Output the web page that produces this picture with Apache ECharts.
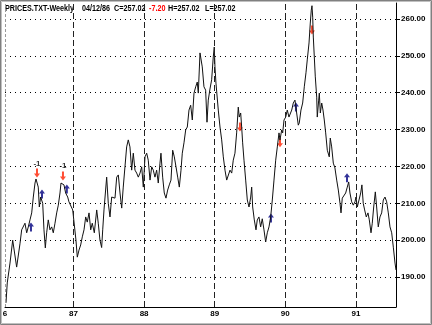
<!DOCTYPE html>
<html>
<head>
<meta charset="utf-8">
<script src="https://cdn.jsdelivr.net/npm/echarts@6/dist/echarts.min.js"></script>
<style>
  html, body { margin: 0; padding: 0; background: #fff; }
  #chart { width: 432px; height: 325px; }
</style>
</head>
<body>
<div id="chart"></div>
<script>
// weekly closes, dates as decimal years (86.0 = start of 1986)
const dates = [
  86.044, 86.062, 86.101, 86.139, 86.195, 86.242, 86.266, 86.313, 86.337, 86.360,
  86.384, 86.408, 86.431, 86.455, 86.469, 86.501, 86.516, 86.535, 86.564, 86.582,
  86.601, 86.620, 86.643, 86.667, 86.691, 86.714, 86.738, 86.762, 86.785, 86.809,
  86.823, 86.841, 86.865, 86.889, 86.918, 86.936, 86.960, 86.989, 87.007, 87.035,
  87.054, 87.078, 87.102, 87.125, 87.149, 87.173, 87.195, 87.220, 87.244, 87.266,
  87.295, 87.329, 87.351, 87.375, 87.399, 87.414, 87.432, 87.470, 87.493, 87.517,
  87.541, 87.564, 87.588, 87.612, 87.635, 87.659, 87.683, 87.705, 87.729, 87.753,
  87.776, 87.800, 87.824, 87.847, 87.871, 87.895, 87.918, 87.942, 87.966, 87.989,
  88.013, 88.037, 88.059, 88.084, 88.108, 88.130, 88.154, 88.178, 88.201, 88.225,
  88.239, 88.263, 88.286, 88.310, 88.334, 88.357, 88.381, 88.405, 88.428, 88.452,
  88.476, 88.499, 88.523, 88.541, 88.565, 88.589, 88.612, 88.636, 88.660, 88.683,
  88.707, 88.731, 88.753, 88.768, 88.792, 88.806, 88.824, 88.848, 88.872, 88.891,
  88.909, 88.933, 88.957, 88.980, 88.994, 89.004, 89.018, 89.051, 89.075, 89.099,
  89.122, 89.146, 89.170, 89.193, 89.217, 89.241, 89.263, 89.287, 89.311, 89.334,
  89.348, 89.368, 89.382, 89.396, 89.415, 89.439, 89.462, 89.486, 89.510, 89.524,
  89.538, 89.561, 89.585, 89.603, 89.627, 89.651, 89.674, 89.698, 89.722, 89.745,
  89.769, 89.793, 89.816, 89.840, 89.864, 89.887, 89.911, 89.925, 89.949, 89.963,
  89.982, 90.006, 90.028, 90.052, 90.091, 90.113, 90.137, 90.161, 90.184, 90.198,
  90.222, 90.246, 90.269, 90.293, 90.311, 90.336, 90.354, 90.368, 90.378, 90.388,
  90.397, 90.411, 90.425, 90.445, 90.453, 90.473, 90.482, 90.496, 90.516, 90.534,
  90.552, 90.572, 90.595, 90.623, 90.637, 90.657, 90.680, 90.703, 90.728, 90.751,
  90.775, 90.789, 90.807, 90.831, 90.855, 90.878, 90.898, 90.916, 90.940, 90.963,
  90.987, 91.001, 91.020, 91.044, 91.068, 91.085, 91.104, 91.124, 91.147, 91.171,
  91.190, 91.214, 91.232, 91.252, 91.275, 91.294, 91.317, 91.341, 91.365, 91.388,
  91.412, 91.436, 91.459, 91.483, 91.507, 91.530, 91.554, 91.568
];
const closes = [
  183, 188.4, 193.8, 200, 192.7, 199, 202.8, 204.6, 202, 203.6,
  205.5, 207.4, 211.7, 215.5, 216.6, 214.4, 209, 211.7, 210, 202.8,
  197.9, 202, 205.5, 202.8, 203.6, 202, 204.6, 207.4, 209.5, 212.8,
  215.5, 215.8, 215, 212.8, 211.7, 210.4, 210, 208.2, 208.7, 200,
  195.4, 197.3, 198.7, 200.9, 202.8, 206.3, 204.9, 207.4, 202.8, 204.6,
  202, 208.2, 204.6, 200, 198, 202.8, 208.2, 217.1, 210, 206.3,
  211.7, 212.2, 211.4, 217.1, 217.7, 212.8, 208.7, 214.4, 219.9, 225.3,
  227.2, 225.3, 219, 223.6, 219, 218.2, 217.1, 218.2, 219.9, 214.4,
  222.6, 223.6, 221.7, 216.3, 219.9, 219, 217.1, 219, 215.5, 220.9,
  223.6, 217.1, 212.8, 211.4, 213.6, 215, 216.3, 224.4, 222.6, 219.9,
  217.1, 214.4, 219, 223.6, 226.4, 229.9, 230.7, 235.3, 236.6, 232.6,
  239.9, 241.6, 242.9, 239.9, 250.8, 251.3, 247, 241.6, 240.7, 232,
  238, 241, 243.5, 249.7, 252.4, 247, 242.6, 235.3, 230.7, 227.2,
  222.6, 219, 216.3, 215.8, 219, 218.2, 221.7, 223.6, 229.1, 236.1,
  233.4, 234.5, 230.7, 226.4, 221.7, 216.3, 210.9, 209, 211.7, 214.4,
  209, 205.5, 202.8, 205.5, 206.3, 203.6, 205.8, 202.8, 199.5, 202,
  203.6, 206.3, 210.9, 216.3, 221.7, 225.3, 229.1, 227.2, 229.9, 229.1,
  232.6, 233.4, 235.3, 233.4, 235.3, 237.2, 238, 234.5, 231.2, 231.8,
  235.3, 237.2, 241.6, 245.4, 248.9, 253.5, 258.9, 262.4, 263.6, 260.5,
  255.1, 249.7, 244.3, 238.8, 233.4, 238, 239.9, 234.5, 237.2, 235.3,
  232.6, 229.1, 224.4, 222.6, 227.7, 225.3, 220.9, 219.6, 216.3, 213.6,
  210, 207.4, 211.4, 211.7, 212.8, 214.4, 215.8, 212.8, 210.4, 209.5,
  210.4, 211.7, 209, 210.9, 212.8, 215, 210, 208.2, 206.3, 207.4,
  205.5, 202, 204.6, 209, 213.1, 209, 203.6, 206.3, 207.4, 210.9,
  211.7, 210.4, 207.4, 203.6, 202, 198.1, 193.8, 191.9
];

const yearTicks = [86.03, 87, 88, 89, 90, 91];
const yearLines = [87, 88, 89, 90, 91];
const priceTicks = [190, 200, 210, 220, 230, 240, 250, 260];

// signal arrows [date, price]
const sellSignals = [[86.483, 218.2], [86.851, 217.4], [89.358, 230.7], [89.925, 226.4], [90.378, 257.0]];
const buySignals = [[86.398, 203.6], [86.554, 212.5], [86.906, 213.9], [89.797, 206.0], [90.151, 236.1], [90.874, 216.9]];
const signalTags = [[86.483, 220.7], [86.851, 220.1]];

const header = [
  { text: "PRICES.TXT-Weekly", x: 5, color: "#000" },
  { text: "04/12/86", x: 82, color: "#000" },
  { text: "C=257.02", x: 114, color: "#000" },
  { text: "-7.20", x: 149, color: "#ff0000" },
  { text: "H=257.02", x: 168, color: "#000" },
  { text: "L=257.02", x: 205, color: "#000" }
];

const FONT = "Liberation Sans";
const downArrow = "path://M2,0L4,0L4,5L6,5L3,9L0,5L2,5Z";
const upArrow = "path://M3,0L6,4L4,4L4,9L2,9L2,4L0,4Z";

const chart = echarts.init(document.getElementById("chart"));

const option = {
  animation: false,
  backgroundColor: "#fff",
  grid: { left: 5, right: 36, top: 3, bottom: 18, outerBoundsMode: "none" },
  xAxis: {
    type: "value",
    min: 86.03,
    max: 91.568,
    axisLine: { show: true, lineStyle: { color: "#000", width: 1 } },
    axisTick: { show: false },
    splitLine: { show: false },
    axisLabel: {
      customValues: yearTicks,
      margin: 3,
      color: "#000",
      fontFamily: FONT,
      fontWeight: "bold",
      fontSize: 8,
      formatter: v => (v < 86.5 ? "6" : String(Math.round(v)))
    }
  },
  yAxis: {
    type: "value",
    position: "right",
    min: 181.87,
    max: 264.34,
    axisLine: { show: true, lineStyle: { color: "#000", width: 1 } },
    axisTick: { show: true, length: 4, customValues: priceTicks, lineStyle: { color: "#000" } },
    axisLabel: {
      customValues: priceTicks,
      margin: 5,
      color: "#000",
      fontFamily: FONT,
      fontWeight: "bold",
      fontSize: 8,
      formatter: v => v.toFixed(2)
    },
    splitLine: { show: true, lineStyle: { color: "#000", width: 1, type: [1, 4] } }
  },
  graphic: [
    { type: "rect", silent: true, shape: { x: 0.5, y: 0.5, width: 431, height: 324 },
      style: { fill: "none", stroke: "#808080", lineWidth: 1 } },
    { type: "rect", silent: true, shape: { x: 1.5, y: 1.5, width: 429, height: 322 },
      style: { fill: "none", stroke: "#c0c0c0", lineWidth: 1 } }
  ].concat(header.map(h => ({
    type: "text",
    silent: true,
    x: h.x,
    y: 9,
    scaleX: 0.8,
    style: {
      text: h.text,
      fill: h.color,
      font: "bold 9px '" + FONT + "'",
      align: "left",
      verticalAlign: "middle"
    }
  }))),
  series: [
    {
      name: "Close",
      type: "line",
      data: dates.map((d, i) => [d, closes[i]]),
      symbol: "none",
      lineStyle: { color: "#111", width: 1 },
      markLine: {
        silent: true,
        symbol: ["none", "none"],
        label: { show: false },
        lineStyle: { color: "#222", width: 1, type: [6, 3] },
        data: yearLines.map(y => ({ xAxis: y })).concat([
          { xAxis: 86.035, lineStyle: { color: "#999", type: [3, 2] } }
        ])
      }
    },
    {
      name: "Sell",
      type: "scatter",
      data: sellSignals,
      symbol: downArrow,
      symbolSize: [6, 9],
      itemStyle: { color: "#ff2000" }
    },
    {
      name: "Buy",
      type: "scatter",
      data: buySignals,
      symbol: upArrow,
      symbolSize: [6, 9],
      itemStyle: { color: "#000080" }
    },
    {
      name: "Tag",
      type: "scatter",
      data: signalTags,
      symbolSize: 1,
      itemStyle: { color: "rgba(0,0,0,0)" },
      label: {
        show: true,
        position: "inside",
        formatter: "-1",
        color: "#000",
        fontFamily: FONT,
        fontWeight: "bold",
        fontSize: 8
      }
    }
  ]
};

chart.setOption(option);
</script>
</body>
</html>
